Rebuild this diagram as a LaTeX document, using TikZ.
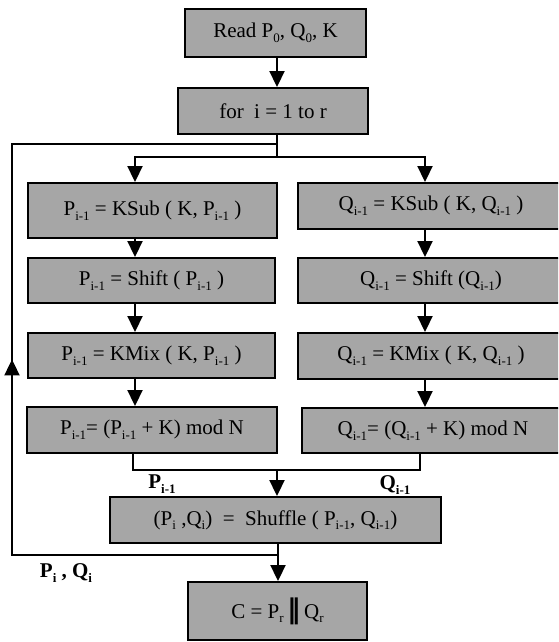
\documentclass[tikz,border=0pt]{standalone}
\usepackage{fontspec}
\setmainfont{Liberation Serif}
\newfontfamily\symfont{DejaVu Sans}
\usetikzlibrary{arrows.meta,decorations.markings}
\definecolor{boxgray}{RGB}{166,166,166}
\newcommand{\sbs}[1]{\raisebox{-0.22em}{\fontsize{13}{13}\selectfont #1}}

\begin{document}
\begin{tikzpicture}[x=1pt, y=-1pt,
    line width=1.9pt,
    box/.style={draw=black, fill=boxgray, inner sep=0pt, font=\fontsize{21}{25}\selectfont},
    arr/.style={-{Triangle[width=15pt,length=16pt]}},
    lbl/.style={inner sep=0pt, font=\fontsize{21}{25}\selectfont\bfseries},
    loopback/.style={postaction={decorate}, decoration={markings,
        mark=at position 0.49 with {\arrow{Triangle[width=15pt,length=16pt]}}}}]
\clip (0,0) rectangle (558,642);

    % input and loop head
    \node[box, minimum width=181, minimum height=48] (read) at (275.5,33) {Read P\sbs{0}, Q\sbs{0}, K};
    \node[box, minimum width=190, minimum height=46] (for) at (273,111) {for~ i = 1 to r};

    % P branch
    \node[box, minimum width=249, minimum height=55] (ksubP) at (152.5,210.5) {P\sbs{i-1} = KSub ( K, P\sbs{i-1} )};
    \node[box, minimum width=247, minimum height=45] (shiftP) at (151.5,280.5) {P\sbs{i-1} = Shift ( P\sbs{i-1} )};
    \node[box, minimum width=247, minimum height=45] (kmixP) at (151.5,355.5) {P\sbs{i-1} = KMix ( K, P\sbs{i-1} )};
    \node[box, minimum width=250, minimum height=46] (modP) at (152,430) {P\sbs{i-1}= (P\sbs{i-1} + K) mod N};

    % Q branch
    \node[box, minimum width=266, minimum height=46] (ksubQ) at (431,206) {Q\sbs{i-1} = KSub ( K, Q\sbs{i-1} )};
    \node[box, minimum width=266, minimum height=45] (shiftQ) at (431,280.5) {Q\sbs{i-1} = Shift (Q\sbs{i-1})};
    \node[box, minimum width=266, minimum height=46] (kmixQ) at (431,356) {Q\sbs{i-1} = KMix ( K, Q\sbs{i-1} )};
    \node[box, minimum width=262, minimum height=45] (modQ) at (433,430.5) {Q\sbs{i-1}= (Q\sbs{i-1} + K) mod N};

    % merge and output
    \node[box, minimum width=331, minimum height=46] (shuffle) at (275.5,520) {(P\sbs{i} ,Q\sbs{i})~~=~~Shuffle ( P\sbs{i-1}, Q\sbs{i-1})};
    \node[box, minimum width=179, minimum height=58] (cbox) at (277.5,611) {C = P\sbs{r}\,{\symfont\bfseries\fontsize{27}{27}\selectfont ‖}\,Q\sbs{r}};

    %labels
    \node[lbl] (plbl) at (162,484) {P\sbs{\bfseries i-1}};
    \node[lbl] (qlbl) at (395,485) {Q\sbs{\bfseries i-1}};
    \node[lbl] (pqlbl) at (66,573) {P\sbs{\bfseries i} , Q\sbs{\bfseries i}};

    % junction points
    \coordinate (jn) at (277,157);
    \coordinate (pin) at (135,157);
    \coordinate (qin) at (425,157);
    \coordinate (mp) at (133,470);
    \coordinate (mq) at (420,470);
    \coordinate (mj) at (277,470);
    \coordinate (oj) at (278,555);
    \coordinate (fbb) at (12,555);
    \coordinate (fbt) at (12,144);

    %relations
    \draw[arr] (read.south -| jn) -- (for.north -| jn);
    \draw (for.south -| jn) -- (jn);
    \draw[arr] (jn) -- (pin) -- (ksubP.north -| pin);
    \draw[arr] (jn) -- (qin) -- (ksubQ.north -| qin);
    \foreach \a/\b in {ksubP/shiftP, shiftP/kmixP, kmixP/modP}
        \draw[arr] (\a.south -| pin) -- (\b.north -| pin);
    \foreach \a/\b in {ksubQ/shiftQ, shiftQ/kmixQ, kmixQ/modQ}
        \draw[arr] (\a.south -| qin) -- (\b.north -| qin);
    \draw (modP.south -| mp) -- (mp) -- (mq) -- (modQ.south -| mq);
    \draw[arr] (mj) -- (shuffle.north -| mj);
    \draw[arr] (shuffle.south -| oj) -- (cbox.north -| oj);

    % feedback to loop head
    \draw[loopback] (oj) -- (fbb) -- (fbt) -- (fbt -| jn);
\end{tikzpicture}
\end{document}
